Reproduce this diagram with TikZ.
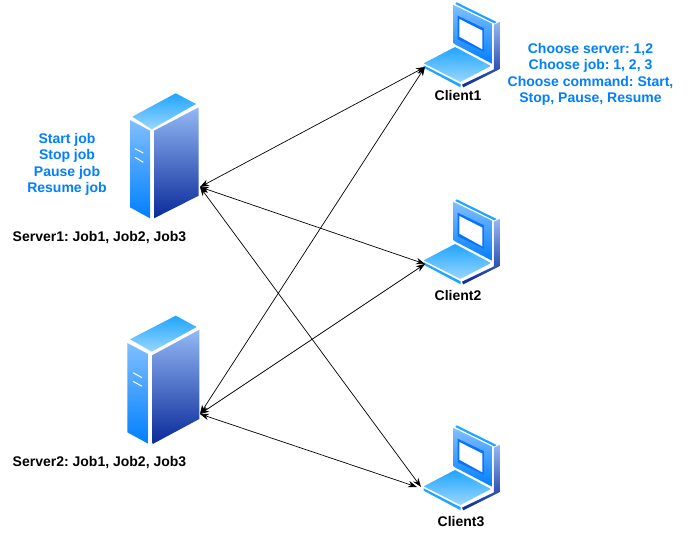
\documentclass[tikz,border=0pt]{standalone}
\usepackage{fontspec}
\setmainfont{Liberation Sans}
\usetikzlibrary{arrows.meta}
\definecolor{txtblue}{HTML}{007FFF}
\definecolor{skyA}{HTML}{1FA5FF}
\definecolor{skyB}{HTML}{99D6FF}
\definecolor{midA}{HTML}{80BFFF}
\definecolor{midB}{HTML}{007FFF}
\definecolor{darkA}{HTML}{94B8F5}
\definecolor{darkB}{HTML}{0A2A99}
\definecolor{winblue}{HTML}{0A70FF}
\tikzset{
  x=1pt,y=-1pt,
  lbl/.style={font=\fontsize{14}{16.5}\selectfont\bfseries\frenchspacing,align=center,inner sep=0pt},
  bluelbl/.style={lbl,text=txtblue},
  link/.style={{Stealth[length=9pt,width=6.5pt]}-{Stealth[length=9pt,width=6.5pt]},line width=0.7pt,black},
  skyface/.style={top color=skyA,bottom color=skyB,draw=none},
  midface/.style={top color=midA,bottom color=midB,draw=none},
  darkface/.style={top color=darkA,bottom color=darkB,draw=none},
  laptop/.pic={
    \begin{scope}[x=0.3333pt,y=-0.3333pt]
      \fill[skyA] (140,7)--(260,66)--(253,70)--(136,12)--cycle;
      \shade[midface] (131,15)--(246,71)--(246,191)--(131,131)--cycle;
      \fill[winblue] (143,47)--(222,85)--(222,155)--(143,118)--cycle;
      \fill[white] (148,57)--(217,92)--(217,148)--(148,110)--cycle;
      \shade[darkface] (252,74)--(268,66)--(268,208)--(160,262)--(156,254)--(252,208)--cycle;
      \shade[skyface] (41,190)--(135,141)--(243,198)--(151,246)--cycle;
      \fill[skyA] (41,196)--(152,253)--(152,262)--(41,203)--cycle;
    \end{scope}
  }
}
\begin{document}
\begin{tikzpicture}
\useasboundingbox (0,0) rectangle (694,537);
\fill[white] (0,0) rectangle (694,537);
% server 1
\shade[skyface] (175.7,93.3)--(196,104)--(151.7,129.3)--(132.3,116.7)--cycle;
\shade[midface] (130,120)--(150,130.7)--(150,218.3)--(130,207.3)--cycle;
\shade[darkface] (154,130.7)--(198.7,107.3)--(198.7,195.7)--(154,218.3)--cycle;
\draw[white,line width=1pt] (135,148.7)--(143.3,153) (135,157.3)--(143.3,162.3);
% server 2
\shade[skyface] (175.7,315.7)--(196.7,327)--(151.7,351.7)--(130,339.3)--cycle;
\shade[midface] (127.3,343)--(148.7,354.3)--(148.7,444)--(127.3,432.3)--cycle;
\shade[darkface] (152.7,355)--(199.3,329.7)--(199.3,419)--(152.7,444)--cycle;
\draw[white,line width=1pt] (133,372.7)--(142,377.7) (133,381.3)--(142,386.3);
% laptops
\pic at (410,0) {laptop};
\pic at (410,197) {laptop};
\pic at (410,423) {laptop};
% anchors
\coordinate (s1) at (200,187);
\coordinate (s2) at (200,414);
\coordinate (c1) at (425,67);
\coordinate (c2) at (425,264);
\coordinate (c3) at (421,487);
\coordinate (c3b) at (417,487);
% links
\draw[link] (s1)--(c1);
\draw[link] (s1)--(c2);
\draw[link] (s1)--(c3);
\draw[link] (s2)--(c1);
\draw[link] (s2)--(c2);
\draw[link] (s2)--(c3b);
% labels
\node[lbl] (n1) at (458,95.5) {Client1};
\node[lbl] (n2) at (458,295.5) {Client2};
\node[lbl] (n3) at (461,521.5) {Client3};
\node[lbl] (n4) at (99.5,238) {Server1: Job1, Job2, Job3};
\node[lbl] (n5) at (99.5,463) {Server2: Job1, Job2, Job3};
\node[bluelbl] (n6) at (67,164.5) {Start job\\Stop job\\Pause job\\Resume job};
\node[bluelbl] (n7) at (590.5,74.5) {Choose server: 1,2\\Choose job: 1, 2, 3\\Choose command: Start,\\Stop, Pause, Resume};
\end{tikzpicture}
\end{document}
